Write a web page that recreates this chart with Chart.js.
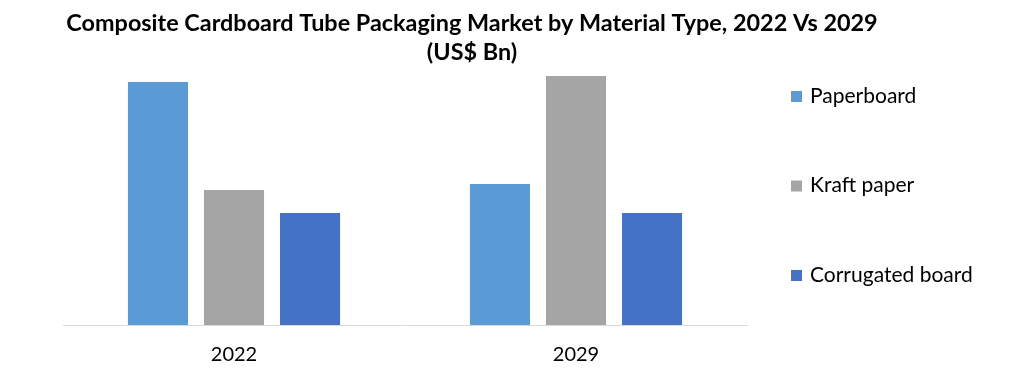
<!DOCTYPE html>
<html lang="en">
<head>
<meta charset="UTF-8">
<title>Composite Cardboard Tube Packaging Market by Material Type</title>
<script src="https://cdn.jsdelivr.net/npm/chart.js"></script>
<style>
    html, body { margin: 0; padding: 0; background: #fff; }
    #wrap { width: 1023px; height: 373px; }
</style>
</head>
<body>
<div id="wrap"><canvas id="chart"></canvas></div>
<script>
// chart data (US$ Bn)
const years = ['2022', '2029'];
const materials = ['Paperboard', 'Kraft paper', 'Corrugated board'];
const paperboard = [2.43, 1.41];
const kraftPaper = [1.35, 2.49];
const corrugatedBoard = [1.12, 1.12];
const titleLines = ['Composite Cardboard Tube Packaging Market by Material Type, 2022 Vs 2029', '(US$ Bn)'];

const colors = ['#5b9bd5', '#a5a5a5', '#4472c4'];
const font = 'Lato, "Open Sans", sans-serif';

// title + right-hand legend drawn on the canvas
const extras = {
    id: 'extras',
    afterDraw(chart) {
        const ctx = chart.ctx;
        ctx.save();
        ctx.fillStyle = '#000';
        ctx.textAlign = 'center';
        ctx.textBaseline = 'middle';
        // size the title so the first line spans about 811px like the original
        ctx.font = 'bold 20px ' + font;
        const size = 20 * 811 / ctx.measureText(titleLines[0]).width;
        ctx.font = 'bold ' + size.toFixed(1) + 'px ' + font;
        ctx.fillText(titleLines[0], 472, 23);
        ctx.fillText(titleLines[1], 472, 52);

        ctx.textAlign = 'left';
        ctx.font = '21px ' + font;
        chart.data.datasets.forEach((ds, i) => {
            const y = 96 + i * 89.5;
            ctx.fillStyle = ds.backgroundColor;
            ctx.fillRect(791, y - 5, 11, 11);
            ctx.fillStyle = '#000';
            ctx.fillText(ds.label, 810, y);
        });
        ctx.restore();
    }
};

new Chart(document.getElementById('chart'), {
    type: 'bar',
    data: {
        labels: years,
        datasets: [
            { label: materials[0], data: paperboard, backgroundColor: colors[0] },
            { label: materials[1], data: kraftPaper, backgroundColor: colors[1] },
            { label: materials[2], data: corrugatedBoard, backgroundColor: colors[2] }
        ]
    },
    options: {
        responsive: true,
        maintainAspectRatio: false,
        animation: false,
        layout: { padding: { left: 63, right: 276, top: 75, bottom: 0 } },
        datasets: {
            bar: { categoryPercentage: 0.667, barPercentage: 0.79 }
        },
        plugins: {
            legend: { display: false },
            title: { display: false },
            tooltip: { enabled: false }
        },
        scales: {
            x: {
                grid: { display: false },
                border: { display: true, color: '#d9d9d9', width: 1 },
                ticks: { color: '#000', padding: 10, font: { family: font, size: 20 } },
                afterFit(scale) { scale.height = 48; }
            },
            y: {
                display: false,
                min: 0,
                max: 2.5
            }
        }
    },
    plugins: [extras]
});
</script>
</body>
</html>
